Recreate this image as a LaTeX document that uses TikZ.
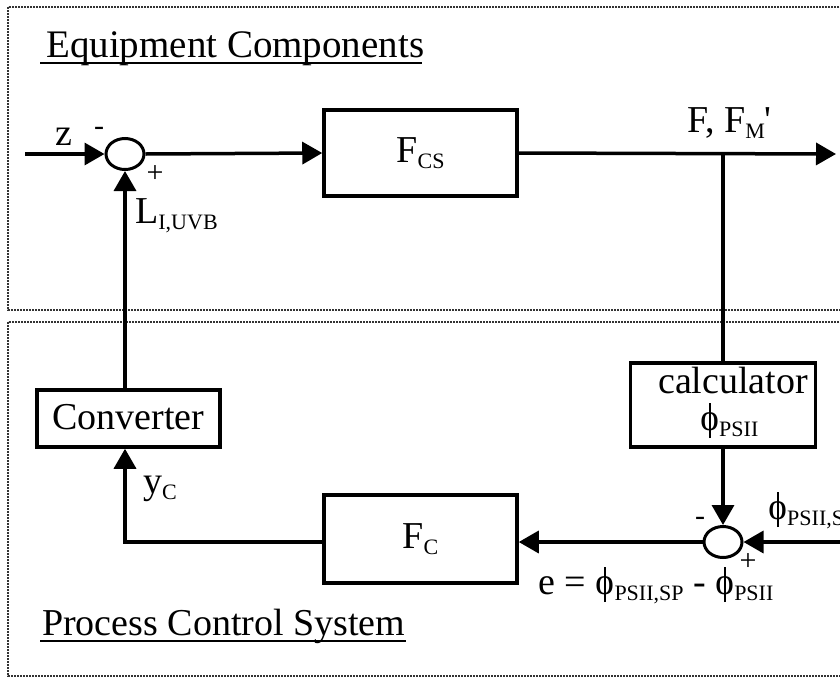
\documentclass[tikz,border=0pt]{standalone}
\usepackage{fontspec}
\setmainfont{Liberation Serif}
\usetikzlibrary{arrows.meta,shapes.geometric}
\newcommand{\sbx}[1]{\raisebox{-6pt}{\fontsize{22}{22}\selectfont #1}}
\newcommand{\ph}{\ooalign{\hfil o\hfil\cr\hfil\rule[-8pt]{1.8pt}{35pt}\hfil\cr}}
\tikzset{
  boxnode/.style={draw, line width=3.5pt, inner sep=0pt},
  sumnode/.style={draw, ellipse, line width=3pt, minimum width=38pt, minimum height=31pt, inner sep=0pt},
  wire/.style={line width=3.5pt},
  arr/.style={-{Triangle[length=20pt,width=22pt]}},
  lbl/.style={inner sep=0pt, anchor=base west, font=\fontsize{38}{40}\selectfont},
  sgn/.style={inner sep=0pt, font=\fontsize{30}{32}\selectfont},
  region/.style={draw=black!80, line width=1.3pt, dash pattern=on 2pt off 1pt}
}
\begin{document}
\begin{tikzpicture}[x=1pt,y=-1pt]
\useasboundingbox (0,0) rectangle (840,678);
\clip (0,0) rectangle (840,678);
\fill[white] (0,0) rectangle (840,678);
% regions
\draw[region] (8,7) rectangle (860,310);
\draw[region] (8,322) rectangle (860,676);
% titles
\node[lbl, font=\fontsize{39}{41}\selectfont] (t1) at (46,57) {Equipment Components};
\draw[line width=2pt] (40,63) -- (422,63);
\node[lbl] (t2) at (42,635) {Process Control System};
\draw[line width=2pt] (40,641) -- (406,641);
% blocks
\node[boxnode, minimum width=193pt, minimum height=86pt, font=\fontsize{38}{40}\selectfont] (fcs) at (420.5,153) {F\sbx{CS}};
\node[boxnode, minimum width=183pt, minimum height=57pt] (conv) at (128.5,418.5) {};
\node[lbl] (convt) at (52,429) {Converter};
\node[boxnode, minimum width=185pt, minimum height=84pt] (calc) at (723,405) {};
\node[lbl] (calct) at (658,393) {calculator};
\node[lbl] (calcp) at (700,430) {\ph\sbx{PSII}};
\node[boxnode, minimum width=193pt, minimum height=88pt, font=\fontsize{38}{40}\selectfont] (fc) at (420.5,539) {F\sbx{C}};
% summing junctions
\node[sumnode] (s1) at (125,154) {};
\node[sumnode] (s2) at (723,542) {};
\coordinate (zin) at (25,154);
\coordinate (out) at (836,154);
\coordinate (spin) at (842,542);
% connectors
\draw[wire,arr] (zin) -- (s1.west);
\draw[wire,arr] (s1.east) -- (fcs.west);
\draw[wire,arr] (fcs.east) -- (out);
\draw[wire] (calc.north |- out) -- (calc.north);
\draw[wire,arr] (calc.south) -- (s2.north);
\draw[wire,arr] (spin) -- (s2.east);
\draw[wire,arr] (s2.west) -- (s2.west -| fc.east);
\draw[wire,arr] (s2.west -| fc.west) -- (s2.west -| s1.south) -- (s1.south |- conv.south);
\draw[wire,arr] (s1.south |- conv.north) -- (s1.south);
% labels
\node[lbl] (zl) at (55,145) {z};
\node[sgn] (m1) at (99,131) {-};
\node[sgn] (p1) at (155,174) {+};
\node[lbl] (ll) at (135,223) {L\sbx{I,UVB}};
\node[lbl] (fl) at (687,132) {F, F\sbx{M}\textquotesingle};
\node[lbl] (yl) at (143,493) {y\sbx{C}};
\node[lbl] (spl) at (768,519) {\ph\sbx{PSII,SP}};
\node[sgn] (m2) at (700,521) {-};
\node[sgn] (p2) at (748,562) {+};
\node[lbl] (el) at (538,594) {e = \ph\sbx{PSII,SP} - \ph\sbx{PSII}};
\end{tikzpicture}
\end{document}
